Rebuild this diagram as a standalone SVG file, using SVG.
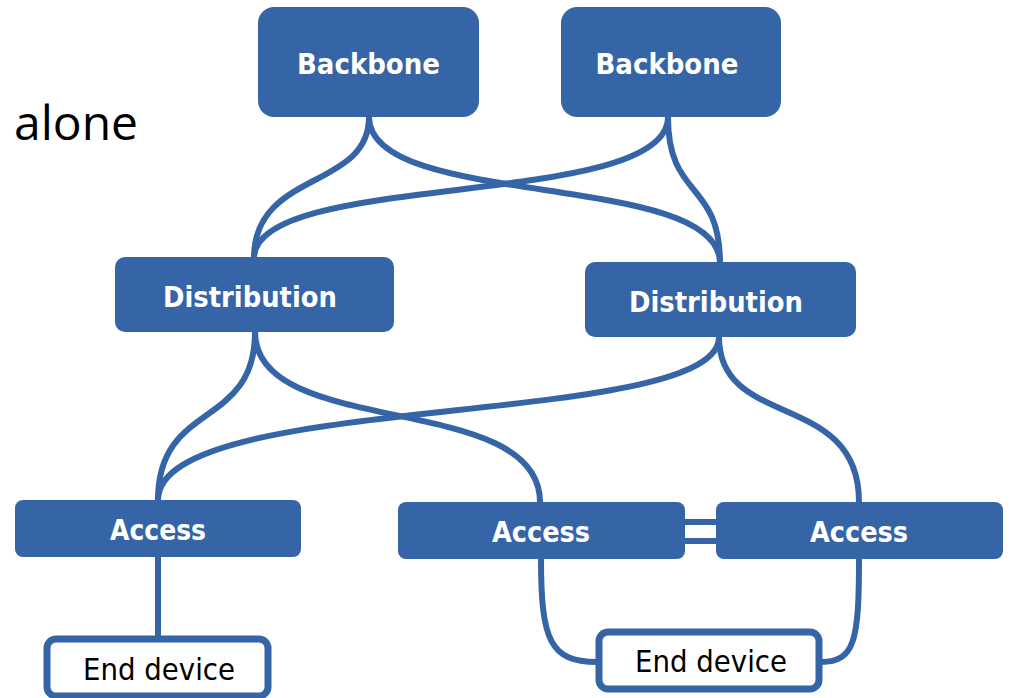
<svg xmlns="http://www.w3.org/2000/svg" width="1011" height="698" viewBox="0 0 1011 698">
<style>
.box{fill:#3565A6}
.dev{fill:#FFFFFF;stroke:#3565A6;stroke-width:7}
.lbl{font-family:"DejaVu Sans","Liberation Sans",sans-serif;font-weight:bold;font-size:29px;fill:#FFFFFF;text-anchor:middle}
.dlbl{font-family:"DejaVu Sans","Liberation Sans",sans-serif;font-size:30px;fill:#000000;text-anchor:middle}
.c{fill:none;stroke:#3565A6;stroke-width:6}
</style>
<rect width="1011" height="698" fill="#FFFFFF"/>
<text x="14" y="140" font-family="'Open Sans','Noto Sans',sans-serif" font-size="48" fill="#000000">alone</text>
<g id="connectors">
<path class="c" d="M369,117 C369,190 254,170 254,258"/>
<path class="c" d="M369,117 C369,210 720,170 720,263"/>
<path class="c" d="M668,117 C668,210 254,170 254,258"/>
<path class="c" d="M668,117 C668,200 720,180 720,263"/>
<path class="c" d="M255,332 C255,430 158,400 158,500"/>
<path class="c" d="M255,332 C255,440 540,390 540,502"/>
<path class="c" d="M719,337 C719,430 158,390 158,500"/>
<path class="c" d="M719,337 C719,430 859,390 859,502"/>
<path class="c" d="M158,556 L158,637"/>
<path class="c" d="M541,559 C541,640 550,662 597,662"/>
<path class="c" d="M859,559 C859,640 855,662 821,662"/>
<path class="c" d="M684,522 L718,522 M684,541 L718,541" stroke-width="7"/>
</g>
<g id="backbone1"><rect class="box" x="258" y="7" width="221" height="110" rx="16"/><text class="lbl" x="368.5" y="74" textLength="143" lengthAdjust="spacingAndGlyphs">Backbone</text></g>
<g id="backbone2"><rect class="box" x="561" y="7" width="220" height="110" rx="16"/><text class="lbl" x="667" y="74" textLength="143" lengthAdjust="spacingAndGlyphs">Backbone</text></g>
<g id="distribution1"><rect class="box" x="115" y="257" width="279" height="75" rx="10"/><text class="lbl" x="250" y="307" textLength="174" lengthAdjust="spacingAndGlyphs">Distribution</text></g>
<g id="distribution2"><rect class="box" x="585" y="262" width="271" height="75" rx="10"/><text class="lbl" x="716" y="312" textLength="174" lengthAdjust="spacingAndGlyphs">Distribution</text></g>
<g id="access1"><rect class="box" x="15" y="500" width="286" height="57" rx="8"/><text class="lbl" x="158" y="540" textLength="96" lengthAdjust="spacingAndGlyphs">Access</text></g>
<g id="access2"><rect class="box" x="398" y="502" width="287" height="57" rx="8"/><text class="lbl" x="541" y="542" textLength="98" lengthAdjust="spacingAndGlyphs">Access</text></g>
<g id="access3"><rect class="box" x="716" y="502" width="287" height="57" rx="8"/><text class="lbl" x="859" y="542" textLength="98" lengthAdjust="spacingAndGlyphs">Access</text></g>
<g id="enddevice1"><rect class="dev" x="47" y="639" width="221" height="57" rx="9"/><text class="dlbl" x="159" y="680" textLength="152" lengthAdjust="spacingAndGlyphs">End device</text></g>
<g id="enddevice2"><rect class="dev" x="599" y="632" width="220" height="57" rx="9"/><text class="dlbl" x="711" y="672" textLength="152" lengthAdjust="spacingAndGlyphs">End device</text></g>
</svg>
